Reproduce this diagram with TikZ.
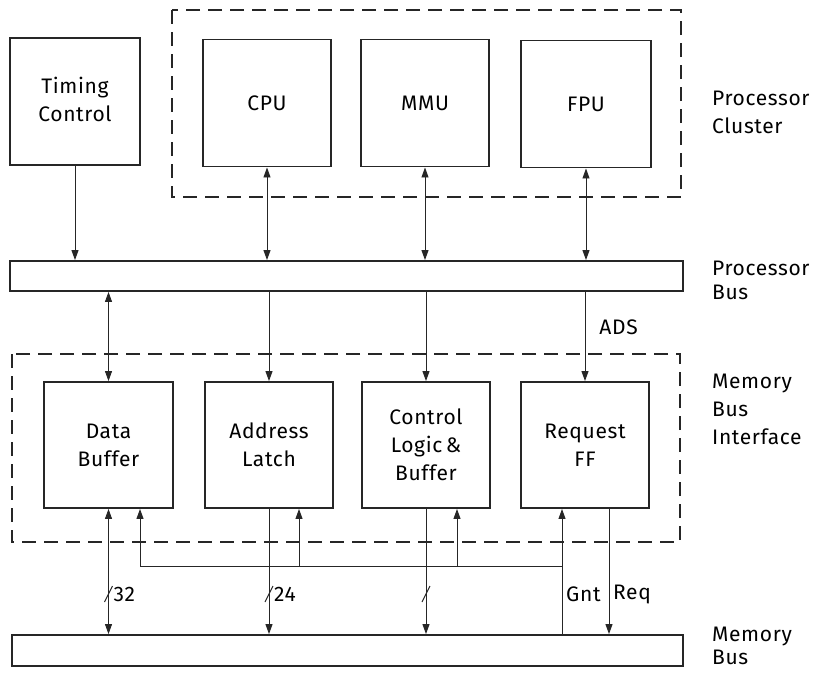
\documentclass[tikz,border=0pt]{standalone}
\usepackage{fontspec}
\setmainfont[LetterSpace=3]{Fira Sans}
\usetikzlibrary{arrows.meta,calc}
\begin{document}
\begin{tikzpicture}[x=1pt,y=-1pt,
  every node/.style={font=\fontsize{21}{28}\selectfont},
  blk/.style={draw=black!85, line width=1.9pt, inner sep=0pt, align=center},
  grp/.style={draw=black!85, line width=1.1pt, dash pattern=on 14pt off 8pt},
  conn/.style={draw=black!85, line width=0.9pt},
  tip/.style={-{Triangle[length=10pt,width=7pt]}},
  tips/.style={{Triangle[length=10pt,width=7pt]}-{Triangle[length=10pt,width=7pt]}},
  lbl/.style={align=left, anchor=west, inner sep=0pt},
  sl/.style={draw=black!85, line width=1pt}]
\useasboundingbox (0,0) rectangle (817,673);
% group frames
\draw[grp] (172,10) rectangle (681,197);
\draw[grp] (12,354) rectangle (680,542);
% blocks
\node[blk, minimum width=130pt, minimum height=127pt] (tc) at (75,101.5) {\raisebox{-5pt}{\begin{tabular}{@{}c@{}}Timing\\Control\end{tabular}}};
\node[blk, minimum width=128pt, minimum height=127pt] (cpu) at (267,103) {CPU};
\node[blk, minimum width=128pt, minimum height=127pt] (mmu) at (425,103) {MMU};
\node[blk, minimum width=130pt, minimum height=127pt] (fpu) at (586,104) {FPU};
\node[blk, minimum width=673pt, minimum height=30pt] (pbus) at (346.5,276) {};
\node[blk, minimum width=129pt, minimum height=126pt] (db) at (108.5,445) {Data\\Buffer};
\node[blk, minimum width=128pt, minimum height=126pt] (al) at (269,445) {Address\\Latch};
\node[blk, minimum width=128pt, minimum height=126pt] (cl) at (426,445) {Control\\Logic\,\&\\Buffer};
\node[blk, minimum width=128pt, minimum height=126pt] (rf) at (585,445) {Request\\FF};
\node[blk, minimum width=671pt, minimum height=31pt] (mbus) at (347.5,650.5) {};
% right labels
\node[lbl] (l1) at (712,112) {Processor\\Cluster};
\node[lbl, font=\fontsize{21}{24}\selectfont] (l2) at (712,280) {Processor\\Bus};
\node[lbl] (l3) at (712,409) {Memory\\Bus\\Interface};
\node[lbl, font=\fontsize{21}{23}\selectfont] (l4) at (712,646) {Memory\\Bus};
% processor side connectors
\draw[conn,tip] (tc.south) -- (tc.south |- pbus.north);
\draw[conn,tips] (cpu.south) -- (cpu.south |- pbus.north);
\draw[conn,tips] (mmu.south) -- (mmu.south |- pbus.north);
\draw[conn,tips] (fpu.south) -- (fpu.south |- pbus.north);
% bus to memory interface
\draw[conn,tips] (db.north |- pbus.south) -- (db.north);
\draw[conn,tip] (al.north |- pbus.south) -- (al.north);
\draw[conn,tip] (cl.north |- pbus.south) -- (cl.north);
\draw[conn,tip] (rf.north |- pbus.south) -- node[right, inner sep=0pt, xshift=14pt, pos=0.4] (ads) {ADS} (rf.north);
% control line coordinates
\coordinate (hdb) at (140,566);
\coordinate (hal) at (299,566);
\coordinate (hcl) at (457,566);
\coordinate (hgnt) at (562,566);
\coordinate (gntb) at (562,635);
\coordinate (reqt) at (609,508);
% memory side connectors
\draw[conn,tips] (db.south) -- (db.south |- mbus.north);
\draw[conn,tip] (al.south) -- (al.south |- mbus.north);
\draw[conn,tip] (cl.south) -- (cl.south |- mbus.north);
\draw[conn,tip] (reqt) -- (reqt |- mbus.north);
\draw[conn,tip] (gntb) -- (gntb |- rf.south);
\draw[conn] (hdb) -- (hgnt);
\draw[conn,tip] (hdb) -- (hdb |- db.south);
\draw[conn,tip] (hal) -- (hal |- al.south);
\draw[conn,tip] (hcl) -- (hcl |- cl.south);
% width slashes and labels
\draw[sl] ($(db.south |- 0,594)+(-4,8)$) -- ($(db.south |- 0,594)+(4,-8)$);
\node[lbl] (w32) at ($(db.south |- 0,594)+(5,0)$) {32};
\draw[sl] ($(al.south |- 0,594)+(-4,8)$) -- ($(al.south |- 0,594)+(4,-8)$);
\node[lbl] (w24) at ($(al.south |- 0,594)+(5,0)$) {24};
\draw[sl] ($(cl.south |- 0,594)+(-4,8)$) -- ($(cl.south |- 0,594)+(4,-8)$);
\node[lbl] (gnt) at (566,594) {Gnt};
\node[lbl] (req) at (613,594) {Req};
\end{tikzpicture}
\end{document}
